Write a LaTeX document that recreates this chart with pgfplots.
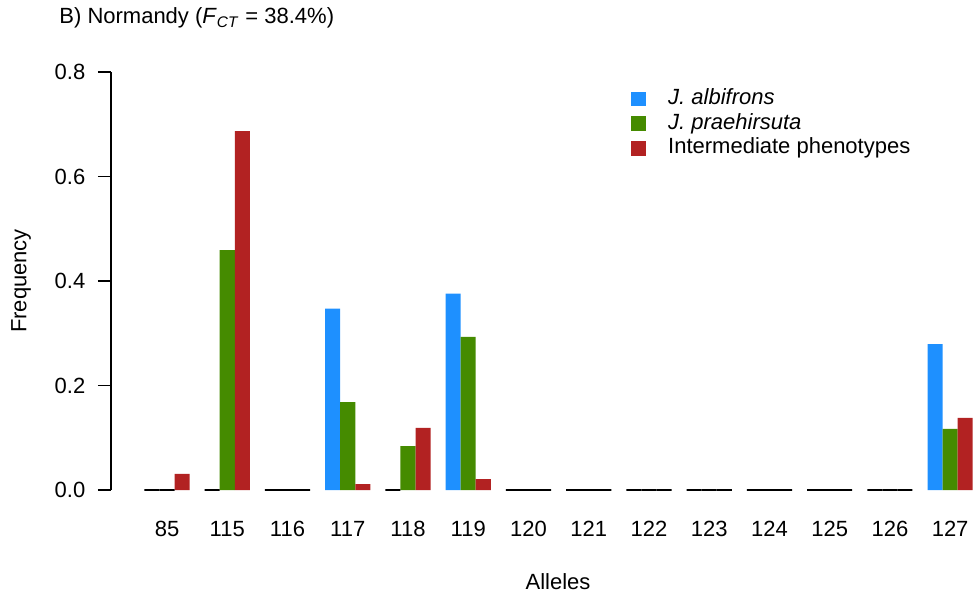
\documentclass[border=0pt]{standalone}
\usepackage{fontspec}
\setmainfont{Liberation Sans}
\usepackage{pgfplots}
\usepackage{pgfplotstable}
\pgfplotsset{compat=1.18}
\definecolor{cblue}{RGB}{30,144,255}
\definecolor{cgreen}{RGB}{69,139,0}
\definecolor{cred}{RGB}{178,34,34}

% x = group centre (R barplot units), y = frequency
\pgfplotstableread{
x y
14.5 0.347
22.5 0.376
54.5 0.279
}\blue
\pgfplotstableread{
x y
6.5 0.459
14.5 0.168
18.5 0.084
22.5 0.293
54.5 0.117
}\green
\pgfplotstableread{
x y
2.5 0.031
6.5 0.687
14.5 0.0115
18.5 0.119
22.5 0.021
54.5 0.138
}\red
% zero-frequency alleles (drawn as flat black bars)
\pgfplotstableread{
x y
2.5 0
6.5 0
10.5 0
18.5 0
26.5 0
30.5 0
34.5 0
38.5 0
42.5 0
46.5 0
50.5 0
}\bluezero
\pgfplotstableread{
x y
2.5 0
10.5 0
26.5 0
30.5 0
34.5 0
38.5 0
42.5 0
46.5 0
50.5 0
}\greenzero
\pgfplotstableread{
x y
10.5 0
26.5 0
30.5 0
34.5 0
38.5 0
42.5 0
46.5 0
50.5 0
}\redzero

\begin{document}
\fontsize{11}{13}\selectfont
\begin{tikzpicture}
\path[use as bounding box] (-55.5pt,-55.5pt) rectangle (431pt,245pt);
\begin{axis}[
  at={(0,0)}, anchor=south west,
  scale only axis,
  width=431pt, height=209pt,
  xmin=-1.22, xmax=56.02,
  ymin=0, ymax=0.8,
  clip=false,
  axis x line*=bottom, axis y line*=left,
  x axis line style={draw=none},
  y axis line style={line width=0.6pt, -},
  xtick={2.5,6.5,10.5,14.5,18.5,22.5,26.5,30.5,34.5,38.5,42.5,46.5,50.5,54.5},
  xticklabels={85,115,116,117,118,119,120,121,122,123,124,125,126,127},
  x tick style={draw=none},
  major tick length=6.5pt,
  tick align=outside,
  ytick={0,0.2,0.4,0.6,0.8},
  yticklabels={0.0,0.2,0.4,0.6,0.8},
  y tick style={line width=0.6pt, black},
  /pgf/number format/assume math mode=true,
  ticklabel style={font=\fontsize{11}{13}\selectfont},
  xticklabel style={anchor=center, yshift=-13pt},
  yticklabel style={anchor=east, xshift=-2.5pt},
  xlabel={Alleles},
  xlabel style={at={(axis description cs:0.5186,-0.22)}, anchor=center, font=\fontsize{11}{13}\selectfont},
  ylabel={Frequency},
  ylabel style={at={(axis description cs:-0.1044,0.5)}, anchor=center, font=\fontsize{11}{13}\selectfont},
  legend image code/.code={\fill[#1] (0pt,-3.6pt) rectangle (7.5pt,3.6pt);},
  legend style={draw=none, fill=none, at={(axis description cs:0.603,0.962)}, anchor=north west,
    inner sep=0pt, row sep=1.9pt, font=\fontsize{11}{13}\selectfont,
    nodes={inner sep=0pt, text height=8pt, text depth=2.5pt},
    /tikz/every odd column/.append style={column sep=11pt}},
  legend cell align=left,
]
\addplot[ybar, bar width=1, bar shift=-1, fill=cblue, draw=none, forget plot] table[x=x,y=y] {\blue};
\addplot[ybar, bar width=1, bar shift=0, fill=cgreen, draw=none, forget plot] table[x=x,y=y] {\green};
\addplot[ybar, bar width=1, bar shift=1, fill=cred, draw=none, forget plot] table[x=x,y=y] {\red};
\addplot[ybar, bar width=1, bar shift=-1, fill=none, draw=black, line width=0.8pt, forget plot] table[x=x,y=y] {\bluezero};
\addplot[ybar, bar width=1, bar shift=0, fill=none, draw=black, line width=0.8pt, forget plot] table[x=x,y=y] {\greenzero};
\addplot[ybar, bar width=1, bar shift=1, fill=none, draw=black, line width=0.8pt, forget plot] table[x=x,y=y] {\redzero};
\addlegendimage{fill=cblue, draw=none}
\addlegendentry{\textit{J. albifrons}}
\addlegendimage{fill=cgreen, draw=none}
\addlegendentry{\textit{J. praehirsuta}}
\addlegendimage{fill=cred, draw=none}
\addlegendentry{Intermediate phenotypes}
\node[anchor=west, inner sep=0pt, font=\fontsize{11}{13}\selectfont] at (axis description cs:-0.0603,1.129)
  {B) Normandy (\textit{F}\textsubscript{\textit{CT}} = 38.4\%)};
\end{axis}
\end{tikzpicture}
\end{document}
